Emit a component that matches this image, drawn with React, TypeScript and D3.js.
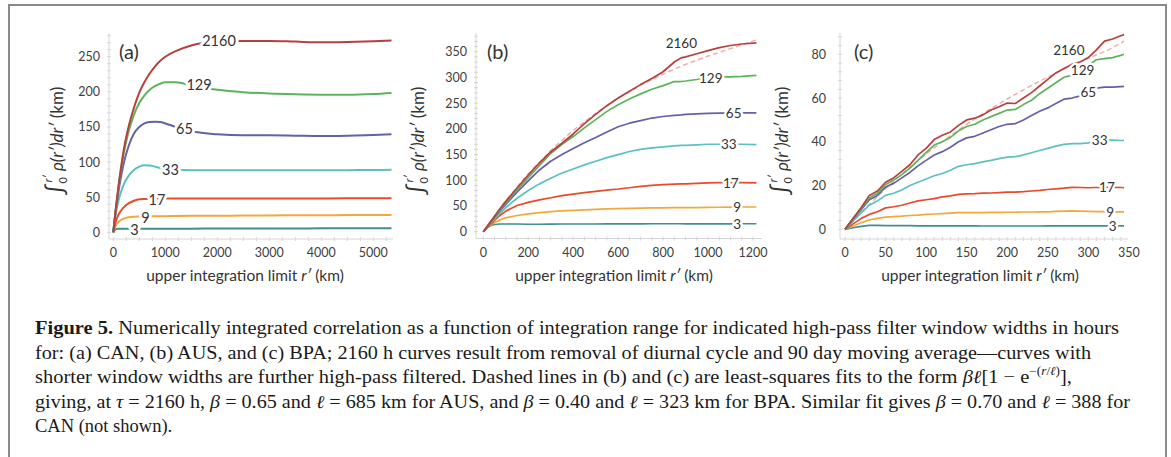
import React from "react";
import * as d3 from "d3";

// ---------------- data ----------------
const windowNames = ["2160", "129", "65", "33", "17", "9", "3"];

// (a) CAN
const rA = [0, 50, 100, 150, 200, 300, 400, 500, 600, 700, 800, 900, 1000, 1200, 1500, 2000, 2500, 3000, 3500, 4000, 4500, 5000, 5350];
const canW2160 = [0, 35, 66, 93, 117, 152, 178, 199, 214, 226, 236, 244, 250, 258, 266, 271.5, 272.5, 272.5, 271.5, 270.5, 271, 272, 273];
const canW129 = [0, 34, 64, 90, 112, 145, 168, 184, 195, 203, 208, 211.5, 213.5, 213.5, 209, 203, 199.5, 197.5, 196.5, 196, 196, 197, 198.5];
const canW65 = [0, 32, 58, 80, 98, 124, 141, 150, 155, 157, 157.5, 157, 155, 150, 144, 139.5, 138, 138, 137.5, 137, 137.5, 138.5, 139.5];
const canW33 = [0, 28, 45, 58, 68, 81, 89, 93.5, 95.5, 95, 93.5, 91.5, 90, 89, 88.5, 88.5, 88.5, 88.5, 88.5, 88.5, 88.5, 88.7, 89];
const canW17 = [0, 16, 25, 31, 35.5, 41.5, 45, 47, 47.5, 47.8, 48, 48, 48, 48, 48, 48, 48, 48, 48, 48, 48.3, 48.5, 48.5];
const canW9 = [0, 10, 14.5, 17.5, 19.5, 21.5, 22.3, 22.7, 23, 23, 23, 23, 23, 23.2, 23.4, 23.6, 23.8, 24, 24.2, 24.3, 24.5, 24.6, 24.7];
const canW3 = [0, 4.5, 5, 5, 5, 5, 5, 5, 5, 5, 5, 5, 5, 5.1, 5.2, 5.3, 5.4, 5.5, 5.5, 5.6, 5.7, 5.7, 5.8];

// (b) AUS
const rB = [0, 25, 50, 75, 100, 150, 200, 250, 300, 350, 400, 450, 500, 550, 600, 650, 700, 750, 800, 850, 880, 900, 950, 1000, 1050, 1100, 1150, 1215];
const ausW2160 = [0, 15, 30, 45, 59, 85, 110, 134, 155, 172, 190, 210, 228, 245, 260, 273, 286, 298, 311, 330, 338, 340, 346, 352, 358, 362, 365, 367];
const ausW129 = [0, 15, 29, 43, 56, 81, 105, 129, 152, 170, 185, 202, 218, 234, 247, 258, 268, 277, 284, 292, 292, 293, 296, 300, 301, 301, 302, 304];
const ausW65 = [0, 14, 28, 41, 53, 77, 99, 120, 137, 150, 162, 173, 183, 194, 204, 211, 216, 221, 224, 226, 227, 228, 229, 230, 230.5, 231, 231, 231];
const ausW33 = [0, 13, 25, 36, 47, 65, 80, 93, 104, 114, 122, 130, 137, 144, 150, 156, 160, 163, 165, 167, 168, 168, 169, 170, 170, 170, 170, 169.5];
const ausW17 = [0, 11, 22, 32, 40, 51, 57, 62, 66, 70, 73, 76, 78.5, 81, 83, 85.5, 88, 90, 91.5, 92.5, 93, 93, 94, 95, 95.5, 95.5, 95.5, 95];
const ausW9 = [0, 10, 18, 23, 27, 31.5, 34.5, 37, 39, 40.5, 41.5, 42.5, 43.5, 44.5, 45, 45.5, 46, 46.3, 46.5, 46.7, 46.8, 47, 47, 47.2, 47.5, 47.8, 48, 48];
const ausW3 = [0, 11, 14, 15, 15, 15, 14.5, 14.5, 14.8, 15, 15, 15, 15, 15.2, 15.2, 15.3, 15.3, 15.5, 15.5, 15.5, 15.5, 15.4, 15.4, 15.3, 15.3, 15.4, 15.5, 15.5];
const ausFitR = [0, 100, 200, 300, 400, 500, 600, 700, 800, 900, 1000, 1100, 1215];
const ausFitV = [0, 60.5, 112.6, 158, 197, 230.5, 259.6, 284.8, 306.6, 325.4, 341.6, 356, 373];

// (c) BPA
const rC = [0, 10, 20, 30, 40, 50, 60, 70, 80, 90, 100, 110, 120, 130, 140, 150, 160, 170, 180, 190, 200, 210, 220, 230, 240, 250, 260, 270, 280, 290, 300, 310, 320, 330, 340, 344];
const bpaW2160 = [0, 5, 10, 15.5, 17.5, 21.5, 23.5, 26.5, 29.5, 34, 37, 41, 43, 44.5, 47.5, 50, 50.8, 52.3, 54.5, 56, 57.7, 57.5, 60, 62.5, 65.5, 68.5, 71.5, 73.5, 75.5, 76.5, 78.5, 82, 86, 87, 88.5, 89];
const bpaW129 = [0, 4.8, 9.5, 14.3, 16.5, 20.5, 22.5, 25, 28, 31.5, 35, 38.5, 40, 42, 45, 47, 48, 50, 51.5, 53, 54.5, 54.8, 57, 59, 62, 64.5, 67, 69.5, 70.5, 72, 75, 77.5, 78, 78.5, 79.5, 80];
const bpaW65 = [0, 4.5, 9, 13.5, 15.5, 19.3, 21, 23.5, 26, 29, 31.5, 34, 35.5, 37.5, 40, 41.8, 42.5, 44, 45.5, 47, 48, 48.3, 50, 52, 54, 55.5, 57.5, 59.5, 60, 61, 62, 64.5, 65, 65, 65.2, 65.3];
const bpaW33 = [0, 3.8, 7.5, 11, 13, 15.5, 16.5, 18, 20, 21.5, 23, 24.5, 25.5, 27, 28.8, 29.5, 30, 30.8, 31.5, 32.3, 33, 33.2, 34, 35, 36, 37, 38, 38.8, 39.2, 39.2, 39.5, 40.5, 41, 40.8, 40.6, 40.6];
const bpaW17 = [0, 2.5, 5, 6.8, 8, 9.8, 10.3, 11, 12, 13, 13.5, 14, 14.8, 15.3, 16, 16.2, 16.3, 16.5, 16.6, 16.8, 17, 17, 17.2, 17.5, 17.8, 18.2, 18.5, 18.8, 19.2, 19.1, 19, 19.1, 19.2, 19.2, 19.1, 19];
const bpaW9 = [0, 1.5, 3, 4.3, 5, 5.6, 5.8, 6, 6.3, 6.5, 6.8, 7, 7.2, 7.4, 7.6, 7.6, 7.6, 7.6, 7.7, 7.7, 7.8, 7.8, 7.9, 7.9, 8, 8, 8.2, 8.3, 8.4, 8.3, 8.2, 8.1, 8.1, 8, 8, 8];
const bpaW3 = [0, 0.7, 1.3, 1.8, 1.8, 1.7, 1.7, 1.7, 1.7, 1.6, 1.6, 1.6, 1.6, 1.6, 1.6, 1.6, 1.6, 1.5, 1.5, 1.5, 1.5, 1.5, 1.5, 1.5, 1.5, 1.6, 1.6, 1.6, 1.6, 1.6, 1.6, 1.6, 1.6, 1.6, 1.6, 1.6];
const bpaFitR = [0, 25, 50, 75, 100, 125, 150, 175, 200, 225, 250, 275, 300, 325, 344];
const bpaFitV = [0, 9.6, 18.5, 26.8, 34.4, 41.5, 48, 54, 59.6, 64.8, 69.6, 74.1, 78.2, 82, 86];

// tick labels
const xTicksA = [0, 1000, 2000, 3000, 4000, 5000];
const yTicksA = [0, 50, 100, 150, 200, 250];
const xTicksB = [0, 200, 400, 600, 800, 1000, 1200];
const yTicksB = [0, 50, 100, 150, 200, 250, 300, 350];
const xTicksC = [0, 50, 100, 150, 200, 250, 300, 350];
const yTicksC = [0, 20, 40, 60, 80];

// curve-label anchor points (data units), same order as windowNames
const labelRA = [2033, 1648, 1369, 1100, 840, 619, 408];
const labelVA = [272.3, 210.7, 148, 88.7, 46, 20.4, 3.3];
const labelRB = [881, 1012, 1114, 1092, 1101, 1130, 1130];
const labelVB = [366, 298, 231, 170.5, 95.3, 48.6, 15];
const labelRC = [276, 293, 300, 314, 323, 327, 330];
const labelVC = [82, 72.8, 62.9, 40.8, 19.2, 8, 1.6];

// ---------------- styles ----------------
const colors: Record<string, string> = {
  "2160": "#b5403d",
  "129": "#5bb45a",
  "65": "#6361a8",
  "33": "#5cc0c0",
  "17": "#e84a2c",
  "9": "#f2a83b",
  "3": "#3f8f8c",
};
const fitColor = "#f3a7a7";
const chartFont = "Lato, 'Open Sans', 'DejaVu Sans', sans-serif";
const serifFont = "'Liberation Serif', 'Times New Roman', 'DejaVu Serif', serif";

type PanelDef = {
  letter: string;
  xDomain: [number, number];
  xRange: [number, number];
  yDomain: [number, number];
  yRange: [number, number];
  xTicks: number[];
  yTicks: number[];
  xMinor: number;
  yMinor: number;
  yAxisX: number;
  xAxisY: number;
  axisTop: number;
  axisRight: number;
  tickLabelX: number;
  letterX: number;
  yTitleX: number;
  xTitleX: number;
  smooth: boolean;
  labelSize: number;
  halo: number;
  lineWidth: number;
  series: { name: string; r: number[]; v: number[] }[];
  fit: { r: number[]; v: number[] } | null;
  labelR: number[];
  labelV: number[];
};

const panels: PanelDef[] = [
  {
    letter: "(a)",
    xDomain: [0, 5000], xRange: [113.3, 373.3],
    yDomain: [0, 250], yRange: [232.3, 56.7],
    xTicks: xTicksA, yTicks: yTicksA, xMinor: 250, yMinor: 10,
    yAxisX: 109, xAxisY: 239, axisTop: 33, axisRight: 393,
    tickLabelX: 100, letterX: 119, yTitleX: 63, xTitleX: 245,
    smooth: true, labelSize: 14.5, halo: 6, lineWidth: 2,
    series: [
      { name: "3", r: rA, v: canW3 },
      { name: "9", r: rA, v: canW9 },
      { name: "17", r: rA, v: canW17 },
      { name: "33", r: rA, v: canW33 },
      { name: "65", r: rA, v: canW65 },
      { name: "129", r: rA, v: canW129 },
      { name: "2160", r: rA, v: canW2160 },
    ],
    fit: null,
    labelR: labelRA, labelV: labelVA,
  },
  {
    letter: "(b)",
    xDomain: [0, 1200], xRange: [483.3, 753],
    yDomain: [0, 350], yRange: [231.7, 51.7],
    xTicks: xTicksB, yTicks: yTicksB, xMinor: 50, yMinor: 10,
    yAxisX: 476, xAxisY: 238.5, axisTop: 33, axisRight: 762,
    tickLabelX: 467, letterX: 487, yTitleX: 424, xTitleX: 614,
    smooth: false, labelSize: 13.5, halo: 5, lineWidth: 1.7,
    series: [
      { name: "3", r: rB, v: ausW3 },
      { name: "9", r: rB, v: ausW9 },
      { name: "17", r: rB, v: ausW17 },
      { name: "33", r: rB, v: ausW33 },
      { name: "65", r: rB, v: ausW65 },
      { name: "129", r: rB, v: ausW129 },
      { name: "2160", r: rB, v: ausW2160 },
    ],
    fit: { r: ausFitR, v: ausFitV },
    labelR: labelRB, labelV: labelVB,
  },
  {
    letter: "(c)",
    xDomain: [0, 300], xRange: [845, 1088.3],
    yDomain: [0, 80], yRange: [229.3, 54.3],
    xTicks: xTicksC, yTicks: yTicksC, xMinor: 10, yMinor: 4,
    yAxisX: 840, xAxisY: 239, axisTop: 33, axisRight: 1128,
    tickLabelX: 826, letterX: 854, yTitleX: 788, xTitleX: 980,
    smooth: false, labelSize: 13.5, halo: 5, lineWidth: 1.7,
    series: [
      { name: "3", r: rC, v: bpaW3 },
      { name: "9", r: rC, v: bpaW9 },
      { name: "17", r: rC, v: bpaW17 },
      { name: "33", r: rC, v: bpaW33 },
      { name: "65", r: rC, v: bpaW65 },
      { name: "129", r: rC, v: bpaW129 },
      { name: "2160", r: rC, v: bpaW2160 },
    ],
    fit: { r: bpaFitR, v: bpaFitV },
    labelR: labelRC, labelV: labelVC,
  },
];

function Panel({ p }: { p: PanelDef }) {
  const x = d3.scaleLinear().domain(p.xDomain).range(p.xRange);
  const y = d3.scaleLinear().domain(p.yDomain).range(p.yRange);
  const line = d3
    .line<[number, number]>()
    .x((d) => x(d[0]))
    .y((d) => y(d[1]))
    .curve(p.smooth ? d3.curveMonotoneX : d3.curveLinear);
  const pts = (r: number[], v: number[]) => r.map((ri, i) => [ri, v[i]] as [number, number]);
  const xMinor = d3.range(0, x.invert(p.axisRight) + 1e-6, p.xMinor);
  const yMinor = d3.range(0, y.invert(p.axisTop) + 1e-6, p.yMinor);
  const axisColor = "#d6d6d6";
  const tickColor = "#404040";
  return (
    <g>
      {/* axes */}
      <line x1={p.yAxisX} x2={p.yAxisX} y1={p.axisTop} y2={p.xAxisY} stroke={axisColor} strokeWidth={1} />
      <line x1={p.yAxisX} x2={p.axisRight} y1={p.xAxisY} y2={p.xAxisY} stroke={axisColor} strokeWidth={1} />
      {yMinor.map((t) => (
        <line key={"ym" + t} x1={p.yAxisX - 2} x2={p.yAxisX + 2} y1={y(t)} y2={y(t)} stroke={axisColor} strokeWidth={1} />
      ))}
      {xMinor.map((t) => (
        <line key={"xm" + t} x1={x(t)} x2={x(t)} y1={p.xAxisY - 2} y2={p.xAxisY + 2} stroke={axisColor} strokeWidth={1} />
      ))}
      {p.yTicks.map((t) => (
        <text key={"yt" + t} x={p.tickLabelX} y={y(t)} dy="0.36em" textAnchor="end" fontSize={12.5} fill={tickColor}>
          {t}
        </text>
      ))}
      {p.xTicks.map((t) => (
        <text key={"xt" + t} x={x(t)} y={257} textAnchor="middle" fontSize={12.5} fill={tickColor}>
          {t}
        </text>
      ))}
      {/* panel letter */}
      <text x={p.letterX} y={59} fontSize={20} fill="#333">{p.letter}</text>
      {/* axis titles */}
      <text x={p.xTitleX} y={281} textAnchor="middle" fontSize={15.5} fill="#333">
        {"upper integration limit "}
        <tspan fontStyle="italic">{"r′"}</tspan>
        {" (km)"}
      </text>
      <text transform={`translate(${p.yTitleX},141) rotate(-90)`} textAnchor="middle" fontSize={17} fill="#333">
        <tspan fontSize={23}>{"∫"}</tspan>
        <tspan fontSize={11} dy={4}>{"0"}</tspan>
        <tspan fontSize={11} dy={-15} dx={-5} fontStyle="italic">{"r′"}</tspan>
        <tspan dy={11} fontStyle="italic">{" ρ(r′)dr′"}</tspan>
        <tspan>{" (km)"}</tspan>
      </text>
      {/* fit */}
      {p.fit && (
        <path d={line(pts(p.fit.r, p.fit.v)) || ""} fill="none" stroke={fitColor} strokeWidth={1.4} strokeDasharray="5,3" />
      )}
      {/* series */}
      {p.series.map((s) => (
        <path key={s.name} d={line(pts(s.r, s.v)) || ""} fill="none" stroke={colors[s.name]} strokeWidth={p.lineWidth} strokeLinejoin="round" />
      ))}
      {/* curve labels */}
      {windowNames.map((n, i) => (
        <text
          key={"lab" + n}
          x={x(p.labelR[i])}
          y={y(p.labelV[i])}
          dy="0.36em"
          textAnchor="middle"
          fontSize={p.labelSize}
          fill="#333"
          stroke="#fff"
          strokeWidth={p.halo}
          paintOrder="stroke"
          strokeLinejoin="round"
        >
          {n}
        </text>
      ))}
    </g>
  );
}

export default function App() {
  const capSize = 18.5;
  return (
    <svg
      width={1171}
      height={457}
      style={{ position: "absolute", left: 0, top: 0, background: "#fff" }}
      fontFamily={chartFont}
    >
      <rect x={0} y={0} width={1171} height={457} fill="#fff" />
      <rect x={9} y={5} width={1157} height={470} fill="none" stroke="#8a8a8a" strokeWidth={2} />
      {panels.map((p) => (
        <Panel key={p.letter} p={p} />
      ))}
      <g fontFamily={serifFont} fontSize={capSize} fill="#1a1a1a">
        <text x={35} y={334} textLength={1084} lengthAdjust="spacingAndGlyphs">
          <tspan fontWeight="bold">{"Figure 5."}</tspan>
          {" Numerically integrated correlation as a function of integration range for indicated high-pass filter window widths in hours"}
        </text>
        <text x={35} y={358.5} textLength={1056} lengthAdjust="spacingAndGlyphs">
          {"for: (a) CAN, (b) AUS, and (c) BPA; 2160 h curves result from removal of diurnal cycle and 90 day moving average—curves with"}
        </text>
        <text x={35} y={383} textLength={1037} lengthAdjust="spacingAndGlyphs">
          {"shorter window widths are further high-pass filtered. Dashed lines in (b) and (c) are least-squares fits to the form "}
          <tspan fontStyle="italic">{"βℓ"}</tspan>
          {"[1 − e"}
          <tspan fontSize={12} dy={-8}>{"−("}</tspan>
          <tspan fontSize={12} fontStyle="italic">{"r"}</tspan>
          <tspan fontSize={12}>{"/"}</tspan>
          <tspan fontSize={12} fontStyle="italic">{"ℓ"}</tspan>
          <tspan fontSize={12}>{")"}</tspan>
          <tspan dy={8}>{"],"}</tspan>
        </text>
        <text x={35} y={407.5} textLength={1095} lengthAdjust="spacingAndGlyphs">
          {"giving, at "}
          <tspan fontStyle="italic">{"τ"}</tspan>
          {" = 2160 h, "}
          <tspan fontStyle="italic">{"β"}</tspan>
          {" = 0.65 and "}
          <tspan fontStyle="italic">{"ℓ"}</tspan>
          {" = 685 km for AUS, and "}
          <tspan fontStyle="italic">{"β"}</tspan>
          {" = 0.40 and "}
          <tspan fontStyle="italic">{"ℓ"}</tspan>
          {" = 323 km for BPA. Similar fit gives "}
          <tspan fontStyle="italic">{"β"}</tspan>
          {" = 0.70 and "}
          <tspan fontStyle="italic">{"ℓ"}</tspan>
          {" = 388 for"}
        </text>
        <text x={35} y={432}>
          {"CAN (not shown)."}
        </text>
      </g>
    </svg>
  );
}
